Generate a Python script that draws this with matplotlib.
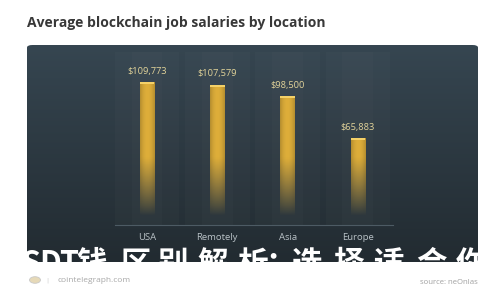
import numpy as np
import matplotlib
matplotlib.use("Agg")
import matplotlib.pyplot as plt
from matplotlib.patches import FancyBboxPatch, Circle

# data
locations = ["USA", "Remotely", "Asia", "Europe"]
salaries = [109773, 107579, 98500, 65883]
value_labels = ["$109,773", "$107,579", "$98,500", "$65,883"]
chart_title = "Average blockchain job salaries by location"
overlay_chars = ["S", "D", "T", "钱", "区", "别", "解", "析", "：", "选", "择", "适", "合", "你"]
overlay_x = [31, 50, 69, 92, 136, 173, 213, 253, 281, 306, 348, 389, 431, 471]

W, H = 500, 300
fig = plt.figure(figsize=(5, 3), dpi=100)
fig.patch.set_facecolor("white")

# panel in pixel coords
px0, px1, py0, py1 = 27, 478, 45, 262
ax = fig.add_axes([px0 / W, 1 - py1 / H, (px1 - px0) / W, (py1 - py0) / H])
ax.set_axis_off()

# map categories -> x, salary -> y
step = 70.3
xlo = -(147 - px0) / step
xhi = xlo + (px1 - px0) / step
ppk = 1.276  # pixels per 1000 $
ylo = -(py1 - 222) / ppk * 1000
yhi = (222 - py0) / ppk * 1000
ax.set_xlim(xlo, xhi)
ax.set_ylim(ylo, yhi)

panel = FancyBboxPatch((0, 0), 1, 1, boxstyle="round,pad=0,rounding_size=0.012",
                       transform=ax.transAxes, facecolor="none", edgecolor="none")
ax.add_patch(panel)

# background gradient
top = np.array([0x36, 0x46, 0x51]) / 255
bot = np.array([0x22, 0x2b, 0x31]) / 255
t = np.linspace(0, 1, 200)[:, None]
bg = (bot * (1 - t) + top * t)[:, None, :]
bg = np.repeat(bg, 2, axis=1)
im = ax.imshow(bg, extent=[xlo, xhi, ylo, yhi], origin="lower", aspect="auto", zorder=0)
im.set_clip_path(panel)

x = np.arange(len(locations))

# faint column bands
y_b = (0 - ylo) / (yhi - ylo) - 0.02
for xi in x:
    ax.axvspan(xi - 0.46, xi + 0.46, ymin=y_b, ymax=0.97,
               color="white", alpha=0.02, lw=0, zorder=1)
    ax.axvspan(xi - 0.22, xi + 0.22, ymin=y_b, ymax=0.97,
               color="white", alpha=0.015, lw=0, zorder=1)

# baseline
base_y = -2350
ax.plot([-0.46, 3.5], [base_y, base_y], color="#4d5b64", lw=0.8, zorder=2)

# bars with fading gradient
bw = 0.21
bars = ax.bar(x, salaries, width=bw, color="none", edgecolor="none", zorder=3)
gold = np.array([0xde, 0xae, 0x3a]) / 255
for b, s in zip(bars, salaries):
    yy = np.linspace(0, s, 300)
    alpha = np.clip((yy - 5000) / 45000, 0, 1) ** 0.9
    xx = np.linspace(-1, 1, 20)
    shade = 1 - 0.18 * xx ** 2
    arr = np.zeros((300, 20, 4))
    arr[..., :3] = gold[None, None, :] * shade[None, :, None]
    arr[..., 3] = alpha[:, None]
    x0 = b.get_x()
    g = ax.imshow(arr, extent=[x0, x0 + bw, 0, s], origin="lower", aspect="auto", zorder=3)
    g.set_clip_path(b)
    # bright cap
    ax.plot([x0, x0 + bw], [s - 700, s - 700], color="#f6d36a", lw=1.4,
            solid_capstyle="butt", zorder=4)

ax.set_xlim(xlo, xhi)
ax.set_ylim(ylo, yhi)

# value labels
for xi, s, lab in zip(x, salaries, value_labels):
    ax.text(xi, s + 5000, lab, ha="center", va="bottom", fontsize=6.7,
            color="#e3d49a", family="Open Sans", zorder=5)

# category labels
for xi, name in zip(x, locations):
    ax.text(xi, -(238 - 222) / ppk * 1000, name, ha="center", va="center",
            fontsize=6.8, color="#b9c2c7", family="Open Sans", zorder=5)

# overlay watermark text (clipped by panel)
for ch, cx in zip(overlay_chars, overlay_x):
    tx = ax.text((cx - px0) / (px1 - px0), (py1 - 264) / (py1 - py0), ch,
                 transform=ax.transAxes, ha="center", va="center", fontsize=22,
                 fontweight="bold", color="white",
                 family=["Noto Sans CJK SC", "DejaVu Sans"], zorder=6, clip_on=True)
    tx.set_clip_path(panel)

# title
fig.text(px0 / W, 1 - 23 / H, chart_title, ha="left", va="center", fontsize=10,
         fontweight="bold", color="#383838", family="Open Sans")

# footer
fig.patches.append(Circle((35 / W, 1 - 280 / H), 5.5 / W, transform=fig.transFigure,
                          facecolor="#e6d9b8", edgecolor="#c9c9c9", lw=0.6))
fig.text(47.5 / W, 1 - 280 / H, "|", ha="center", va="center", fontsize=4.5,
         color="#d0d0d0")
fig.text(57 / W, 1 - 280 / H, "cointelegraph.com", ha="left", va="center",
         fontsize=6.0, color="#a8a8a8", family="Open Sans")
fig.text(px1 / W, 1 - 282 / H, "source: neOnlas", ha="right", va="center",
         fontsize=5.6, color="#a0a0a0", family="Open Sans")

fig.savefig("out.png", dpi=100, facecolor="white")
